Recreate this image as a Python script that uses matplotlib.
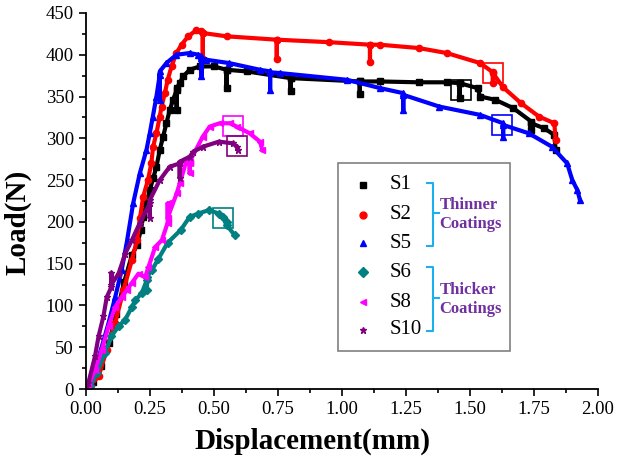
import matplotlib
matplotlib.use("Agg")
import matplotlib.pyplot as plt
from matplotlib.patches import Rectangle
from matplotlib.ticker import MultipleLocator

plt.rcParams["font.family"] = ["Liberation Serif", "DejaVu Serif"]

# Load-displacement data
s1_x = [0, 0.03, 0.06, 0.09, 0.12, 0.15, 0.18, 0.2, 0.215, 0.224, 0.237, 0.25, 0.263,
        0.276, 0.289, 0.302, 0.315, 0.328, 0.341, 0.355, 0.355, 0.355, 0.367, 0.38,
        0.406, 0.445, 0.5, 0.55, 0.55, 0.55, 0.63, 0.8, 0.8, 0.8, 1.07, 1.07, 1.07,
        1.15, 1.3, 1.41, 1.46, 1.46, 1.46, 1.53, 1.54, 1.6, 1.67, 1.74, 1.74, 1.74,
        1.79, 1.83, 1.835]
s1_y = [0, 8, 28, 55, 90, 128, 160, 172, 190, 206, 222, 238, 252,
        266, 286, 302, 318, 334, 346, 358, 334, 360, 366, 374,
        382, 386, 386, 382, 360, 382, 380, 372, 356, 372, 368, 353, 368,
        368, 367, 367, 366, 348, 366, 360, 350, 346, 336, 320, 310, 318,
        312, 304, 286]

s2_x = [0, 0.02, 0.05, 0.082, 0.115, 0.147, 0.18, 0.2, 0.212, 0.224, 0.243, 0.256,
        0.263, 0.276, 0.289, 0.296, 0.309, 0.32, 0.335, 0.354, 0.374, 0.4, 0.43,
        0.45, 0.457, 0.457, 0.457, 0.55, 0.746, 0.746, 0.746, 0.95, 1.11, 1.11,
        1.11, 1.148, 1.3, 1.41, 1.54, 1.59, 1.59, 1.59, 1.63, 1.7, 1.77, 1.83, 1.835]
s2_y = [0, 5, 15, 47, 79, 118, 154, 178, 205, 230, 250, 270,
        290, 306, 326, 338, 354, 370, 386, 402, 412, 422, 429,
        428, 426, 395, 426, 422, 418, 395, 418, 415, 412, 391,
        412, 412, 408, 402, 390, 379, 366, 378, 361, 342, 326, 318, 298]

s5_x = [0, 0.02, 0.036, 0.063, 0.089, 0.115, 0.14, 0.16, 0.185, 0.211, 0.237, 0.25,
        0.262, 0.276, 0.289, 0.289, 0.289, 0.315, 0.354, 0.406, 0.44, 0.452, 0.452,
        0.452, 0.47, 0.56, 0.68, 0.72, 0.72, 0.72, 0.76, 1.02, 1.15, 1.24, 1.24,
        1.24, 1.38, 1.54, 1.63, 1.63, 1.63, 1.73, 1.82, 1.88, 1.9, 1.92, 1.93]
s5_y = [0, 10, 23, 51, 79, 110, 142, 175, 222, 258, 286, 306,
        326, 350, 376, 346, 380, 390, 400, 402, 400, 398, 374,
        396, 394, 390, 382, 380, 358, 379, 378, 370, 360, 354, 334,
        352, 338, 328, 318, 302, 316, 306, 290, 270, 250, 238, 226]

s6_x = [0, 0.017, 0.043, 0.075, 0.1, 0.128, 0.154, 0.18, 0.193, 0.219, 0.238, 0.238,
        0.238, 0.258, 0.284, 0.32, 0.37, 0.406, 0.44, 0.48, 0.52, 0.535, 0.55, 0.55,
        0.582]
s6_y = [0, 3, 19, 43, 63, 75, 83, 98, 106, 115, 130, 118,
        134, 142, 156, 175, 190, 206, 210, 214, 210, 206, 200, 196,
        184]

s8_x = [0, 0.01, 0.036, 0.063, 0.089, 0.115, 0.14, 0.16, 0.18, 0.206, 0.232, 0.245,
        0.271, 0.297, 0.32, 0.32, 0.32, 0.355, 0.367, 0.394, 0.406, 0.406, 0.406,
        0.457, 0.484, 0.523, 0.563, 0.59, 0.64, 0.68, 0.69]
s8_y = [0, 3, 23, 47, 75, 98, 110, 118, 127, 138, 134, 146,
        170, 178, 199, 222, 205, 234, 246, 274, 270, 258, 272,
        302, 314, 318, 318, 314, 306, 296, 286]

s10_x = [0, 0.01, 0.036, 0.05, 0.069, 0.082, 0.1, 0.1, 0.1, 0.128, 0.154, 0.18,
         0.21, 0.25, 0.25, 0.25, 0.289, 0.328, 0.367, 0.367, 0.367, 0.406, 0.42,
         0.458, 0.52, 0.574, 0.59, 0.595]
s10_y = [0, 7, 39, 63, 87, 110, 122, 139, 125, 138, 162, 178,
         198, 222, 205, 226, 250, 266, 270, 252, 272, 278, 284,
         290, 296, 294, 290, 286]

labels = ["S1", "S2", "S5", "S6", "S8", "S10"]
colors = ["black", "#ff0000", "#0000ff", "#008080", "#ff00ff", "#800080"]
markers = ["s", "o", "^", "D", "<", "*"]
xs = [s1_x, s2_x, s5_x, s6_x, s8_x, s10_x]
ys = [s1_y, s2_y, s5_y, s6_y, s8_y, s10_y]

# failure points marked with open squares
fail_x = [1.465, 1.59, 1.625, 0.535, 0.574, 0.59]
fail_y = [358, 378, 316, 205, 315, 291]

fig = plt.figure(figsize=(6.17, 4.62), dpi=100)
ax = fig.add_axes([0.139, 0.158, 0.83, 0.814])

for x, y, c, m in zip(xs, ys, colors, markers):
    ax.plot(x, y, color=c, lw=3, marker=m, ms=4.5, mec=c, mfc=c)

for fx, fy, c in zip(fail_x, fail_y, colors):
    ax.plot(fx, fy, marker="s", ms=14, mfc="none", mec=c, mew=1.2)

ax.set_xlim(0, 2.0)
ax.set_ylim(0, 450)
ax.xaxis.set_major_locator(MultipleLocator(0.25))
ax.xaxis.set_minor_locator(MultipleLocator(0.125))
ax.yaxis.set_major_locator(MultipleLocator(50))
ax.yaxis.set_minor_locator(MultipleLocator(25))
ax.xaxis.set_major_formatter(plt.FormatStrFormatter("%.2f"))
ax.tick_params(which="major", direction="out", length=5, width=1.2, labelsize=13.5)
ax.tick_params(which="minor", direction="out", length=3, width=1.2)
for side in ["top", "right"]:
    ax.spines[side].set_visible(False)
for side in ["left", "bottom"]:
    ax.spines[side].set_linewidth(1.3)

ax.text(0.442, -0.138, "Displacement(mm)", transform=ax.transAxes, ha="center",
        va="center", fontsize=21, fontweight="bold")
ax.text(-0.133, 0.444, "Load(N)", transform=ax.transAxes, ha="center",
        va="center", fontsize=21, fontweight="bold", rotation=90)

# hand-made legend with braces
ax.add_patch(Rectangle((0.492, 0.101), 0.336, 0.500, transform=ax.transAxes,
                       facecolor="white", edgecolor="#808080", lw=1.2, zorder=5))
entry_y = [0.543, 0.463, 0.388, 0.311, 0.231, 0.157]
for ey, lab, c, m in zip(entry_y, labels, colors, markers):
    ax.plot([0.541], [ey], transform=ax.transAxes, marker=m, color=c, ms=5,
            ls="none", zorder=6, clip_on=False)
    ax.text(0.594, ey, lab, transform=ax.transAxes, ha="left", va="center",
            fontsize=15, zorder=6)

brace_col = "#1ab0ee"
for top, bot, mid in [(0.548, 0.380, 0.468), (0.324, 0.154, 0.242)]:
    ax.plot([0.666, 0.678, 0.678, 0.666], [top, top, bot, bot], transform=ax.transAxes,
            color=brace_col, lw=1.5, zorder=6)
    ax.plot([0.678, 0.689], [mid, mid], transform=ax.transAxes, color=brace_col,
            lw=1.5, zorder=6)
ax.text(0.691, 0.463, "Thinner\nCoatings", transform=ax.transAxes, ha="left",
        va="center", fontsize=12, fontweight="bold", color="#7030a0", zorder=6,
        linespacing=1.25)
ax.text(0.691, 0.237, "Thicker\nCoatings", transform=ax.transAxes, ha="left",
        va="center", fontsize=12, fontweight="bold", color="#7030a0", zorder=6,
        linespacing=1.25)

fig.savefig("out.png", dpi=100)
